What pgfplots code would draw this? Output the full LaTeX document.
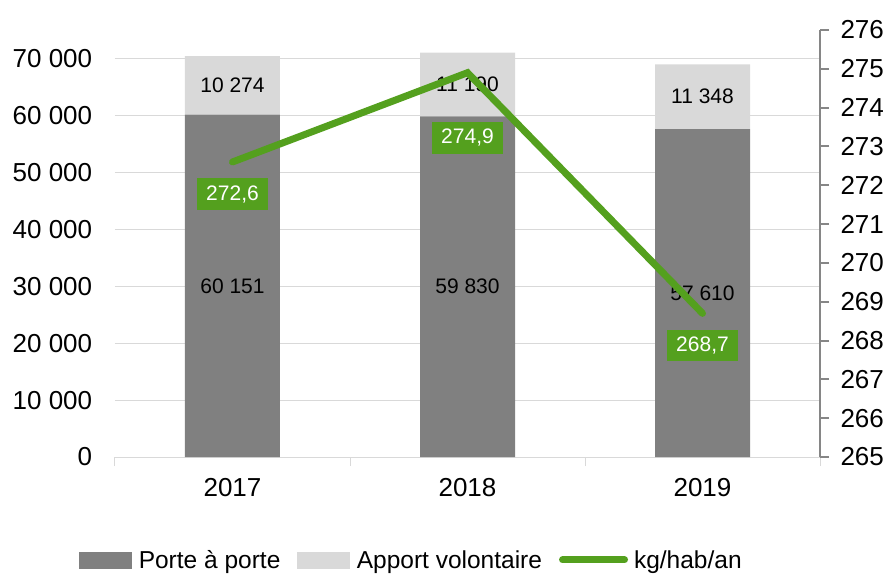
\documentclass[border=0pt]{standalone}
\usepackage{pgfplots}
\pgfplotsset{compat=1.18}
\usepackage{fontspec}
\setmainfont{Liberation Sans}

\definecolor{pap}{RGB}{128,128,128}
\definecolor{av}{RGB}{217,217,217}
\definecolor{kg}{RGB}{84,160,30}
\definecolor{gridc}{RGB}{217,217,217}
\definecolor{raxis}{RGB}{134,134,134}

\pgfplotsset{
  base/.style={
    scale only axis, width=705pt, height=427pt,
    xmin=-0.5, xmax=2.5,
    scaled y ticks=false,
    /pgf/number format/assume math mode=true,
    /pgf/number format/1000 sep={\ },
    tick label style={font=\fontsize{26}{30}\selectfont},
  },
}

\begin{document}
\begin{tikzpicture}
% bars, left axis
\begin{axis}[base, name=main,
    ybar stacked, bar width=95pt,
    ymin=0, ymax=75000, ytick={0,10000,...,70000},
    ymajorgrids, grid style={gridc, line width=1pt},
    axis y line*=left, y axis line style={draw=none}, ytick style={draw=none},
    yticklabel style={xshift=-15pt},
    axis x line*=bottom, x axis line style={gridc, line width=1pt},
    xtick={0,1,2}, xticklabels={2017,2018,2019},
    major x tick style={draw=none},
    minor xtick={-0.5,0.5,1.5,2.5},
    minor x tick style={gridc, line width=1pt}, minor tick length=9pt,
    tick align=outside,
    xticklabel style={yshift=-14pt},
  ]
  \addplot[fill=pap, draw=none] coordinates {(0,60151) (1,59830) (2,57610)};
  \addplot[fill=av, draw=none] coordinates {(0,10274) (1,11190) (2,11348)};
\end{axis}

% segment labels
\begin{axis}[base, ymin=0, ymax=75000, hide axis]
  \addplot[draw=none, mark=none, nodes near coords, point meta=explicit symbolic,
    nodes near coords align=center,
    every node near coord/.append style={anchor=center, text=black, font=\fontsize{21}{25}\selectfont}]
    coordinates {(0,30075.5) [60 151] (1,29915) [59 830] (2,28805) [57 610]
                 (0,65288) [10 274] (1,65425) [11 190] (2,63284) [11 348]};
\end{axis}

% line, right axis
\begin{axis}[base,
    ymin=265, ymax=276, ytick={265,266,...,276},
    axis y line*=right, axis x line=none,
    y axis line style={raxis, line width=2pt},
    ytick style={raxis, line width=2pt},
    yticklabel style={xshift=8pt},
    tick align=outside, major tick length=9pt,
    legend columns=-1,
    legend style={at={(0.4206,-0.241)}, anchor=center, draw=none, fill=none,
      font=\fontsize{24.5}{29}\selectfont,
      /tikz/every even column/.append style={column sep=15pt}},
  ]
  \addlegendimage{legend image code/.code={\fill[pap] (0pt,-8pt) rectangle (52pt,8pt); \path (57pt,0pt);}}
  \addlegendentry{Porte à porte}
  \addlegendimage{legend image code/.code={\fill[av] (0pt,-8pt) rectangle (52pt,8pt); \path (57pt,0pt);}}
  \addlegendentry{Apport volontaire}
  \addplot[kg, line width=7pt, line cap=round, mark=none,
    legend image code/.code={\draw[kg, line width=7pt, line cap=round] (4pt,0pt) -- (66pt,0pt); \path (70pt,0pt);},
    nodes near coords, point meta=explicit symbolic,
    visualization depends on={value \thisrow{dy} \as \dy},
    every node near coord/.style={anchor=north, yshift=\dy pt, fill=kg, text=white,
      inner xsep=9pt, inner ysep=7pt, font=\fontsize{21}{25}\selectfont}]
    table[x=x, y=y, meta=lab] {
x y dy lab
0 272.6 -13 272,6
1 274.9 -46 274,9
2 268.7 -13 268,7
};
  \addlegendentry{kg/hab/an}
\end{axis}

\pgfresetboundingbox
\path (main.south west) ++(-115pt,-117pt) rectangle ++(889pt,574pt);
\end{tikzpicture}
\end{document}
